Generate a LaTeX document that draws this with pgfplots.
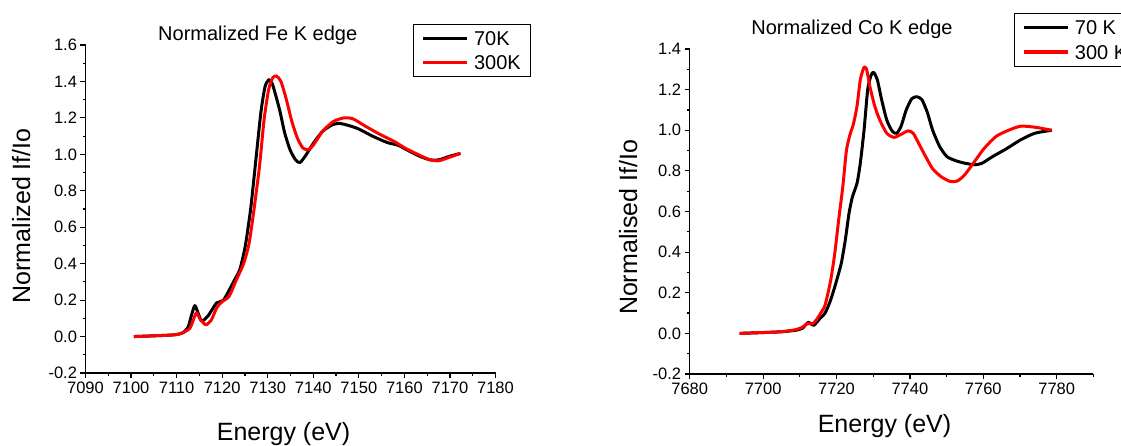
\documentclass[border=0pt]{standalone}
\usepackage{fontspec}
\setmainfont{Liberation Sans}
\usepackage{pgfplots}
\pgfplotsset{compat=1.18}
\pgfplotsset{
 myaxis/.style={
  scale only axis,
  anchor=south west,
  axis x line*=bottom, axis y line*=left,
  axis line style={line width=1.4pt},
  every tick/.style={black, line width=1.2pt},
  major tick length=5pt, minor tick length=3pt,
  tick align=outside,
  tick label style={font=\fontsize{16.5}{16.5}\selectfont},
  /pgf/number format/assume math mode=true,
  scaled x ticks=false, scaled y ticks=false,
  xticklabel style={/pgf/number format/1000 sep={}},
  yticklabel style={/pgf/number format/.cd, fixed, fixed zerofill, precision=1},
  label style={font=\fontsize{25}{25}\selectfont},
  title style={font=\fontsize{20}{20}\selectfont, anchor=base},
  clip=false,
  legend cell align=left,
  legend style={draw=black, line width=0.8pt, font=\fontsize{20}{20}\selectfont, anchor=north west,
    inner xsep=8.4pt, inner ysep=1.8pt, row sep=0pt, column sep=4pt,
    nodes={inner xsep=1pt, inner ysep=1pt, text height=18.4pt, text depth=4pt}},
  legend image code/.code={\draw[#1, line width=3.2pt] (0pt,0pt) -- (44pt,0pt);},
  every axis plot/.append style={line width=3pt, line join=round, smooth, tension=0.4},
 },
}
\begin{document}
\begin{tikzpicture}
\useasboundingbox (0,0) rectangle (1121pt,446pt);
% ---------------- Fe K edge
\begin{axis}[myaxis,
  at={(85.5pt,73pt)}, width=410pt, height=328pt,
  xmin=7090, xmax=7180, ymin=-0.2, ymax=1.6,
  xtick={7090,7100,...,7180}, minor xtick={7095,7105,...,7175},
  ytick={-0.2,0,0.2,0.4,0.6,0.8,1.0,1.2,1.4,1.6},
  minor ytick={-0.1,0.1,0.3,0.5,0.7,0.9,1.1,1.3,1.5},
  title={Normalized Fe K edge},
  title style={at={(axis description cs:0.42,1)}, yshift=-2pt},
  xlabel={Energy (eV)},
  xlabel style={at={(axis description cs:0.483,0)}, anchor=base, yshift=-68pt},
  ylabel={Normalized If/Io},
  ylabel style={at={(axis description cs:0,0.479)}, anchor=base, yshift=55.5pt},
  legend style={at={(axis description cs:0.799,1.0646)}},
]
\addplot[black] coordinates {
(7100.6,0.000) (7104,0.003) (7107,0.006) (7109.7,0.010) (7111.3,0.020) (7112.5,0.050)
(7113.3,0.120) (7114.0,0.170) (7114.7,0.130) (7115.5,0.085) (7116.8,0.110) (7118.8,0.185)
(7120.3,0.200) (7122.7,0.310) (7123.9,0.370) (7125.1,0.500) (7126.3,0.710) (7127.4,0.970)
(7128.5,1.230) (7129.4,1.370) (7130.3,1.410) (7131.1,1.380) (7132.6,1.245) (7133.7,1.120)
(7134.9,1.025) (7136.1,0.970) (7137.1,0.955) (7138.5,1.000) (7140.0,1.060) (7142.0,1.125)
(7144.0,1.160) (7145.6,1.170) (7147.5,1.160) (7149.9,1.140) (7153.0,1.100) (7156.2,1.065)
(7158.6,1.050) (7160.9,1.020) (7163.3,0.990) (7165.6,0.970) (7167.6,0.970) (7170.0,0.990)
(7172.3,1.005)};
\addlegendentry{70K}
\addplot[red] coordinates {
(7100.6,0.000) (7104,0.003) (7107,0.006) (7109.7,0.010) (7111.3,0.020) (7112.9,0.045)
(7113.8,0.100) (7114.4,0.130) (7115.2,0.095) (7116.4,0.065) (7117.6,0.090) (7118.8,0.157)
(7119.9,0.190) (7121.5,0.220) (7123.1,0.310) (7124.7,0.400) (7125.9,0.510) (7127.0,0.700)
(7128.2,0.935) (7129.2,1.190) (7130.2,1.355) (7131.1,1.420) (7131.9,1.430) (7132.9,1.400)
(7134.1,1.300) (7135.3,1.180) (7136.5,1.090) (7137.7,1.035) (7138.9,1.025) (7140.0,1.050)
(7142.0,1.125) (7144.4,1.180) (7146.7,1.200) (7148.7,1.195) (7151.4,1.155) (7154.6,1.110)
(7157.8,1.070) (7160.1,1.035) (7162.9,1.000) (7165.6,0.970) (7167.6,0.965) (7170.0,0.985)
(7172.3,1.005)};
\addlegendentry{300K}
\end{axis}
% ---------------- Co K edge
\begin{axis}[myaxis,
  at={(689.7pt,72pt)}, width=403.7pt, height=325pt,
  xmin=7680, xmax=7790, ymin=-0.2, ymax=1.4,
  xtick={7680,7700,...,7780}, minor xtick={7690,7710,...,7790},
  ytick={-0.2,0,0.2,0.4,0.6,0.8,1.0,1.2,1.4},
  minor ytick={-0.1,0.1,0.3,0.5,0.7,0.9,1.1,1.3},
  title={Normalized Co K edge},
  title style={at={(axis description cs:0.402,1)}, yshift=8.5pt},
  xlabel={Energy (eV)},
  xlabel style={at={(axis description cs:0.4825,0)}, anchor=base, yshift=-59pt},
  ylabel={Normalised If/Io},
  ylabel style={at={(axis description cs:0,0.451)}, anchor=base, yshift=52.7pt},
  legend style={at={(axis description cs:0.803,1.11)}},
]
\addplot[black] coordinates {
(7693.6,0.000) (7700,0.004) (7705.0,0.008) (7708.8,0.015) (7710.7,0.025) (7712.3,0.054)
(7713.8,0.040) (7715.5,0.074) (7716.9,0.100) (7718.4,0.164) (7719.8,0.246) (7721.3,0.345)
(7722.4,0.460) (7723.4,0.590) (7724.3,0.670) (7725.6,0.740) (7726.5,0.840) (7727.5,1.000)
(7728.5,1.200) (7729.4,1.270) (7730.1,1.285) (7731.1,1.250) (7732.3,1.150) (7733.7,1.050)
(7735.2,0.995) (7736.4,0.985) (7737.6,1.020) (7739.0,1.100) (7740.5,1.155) (7741.9,1.165)
(7743.3,1.150) (7744.8,1.085) (7746.2,1.000) (7748.1,0.920) (7750.1,0.870) (7752.5,0.850)
(7754.9,0.838) (7757.7,0.830) (7759.7,0.838) (7762.5,0.870) (7766.4,0.910) (7770.2,0.953)
(7774.0,0.985) (7778.7,1.000)};
\addlegendentry{70 K}
\addplot[red] coordinates {
(7693.6,0.000) (7700,0.004) (7705.0,0.008) (7708.8,0.018) (7710.7,0.030) (7712.1,0.049)
(7713.4,0.046) (7714.5,0.066) (7715.7,0.100) (7716.9,0.140) (7718.4,0.260) (7719.5,0.390)
(7720.6,0.560) (7721.7,0.720) (7722.7,0.900) (7723.7,0.980) (7724.6,1.030) (7725.6,1.120)
(7726.5,1.250) (7727.5,1.310) (7728.2,1.300) (7729.1,1.215) (7730.4,1.120) (7731.8,1.050)
(7733.7,0.985) (7735.7,0.965) (7737.6,0.980) (7739.5,0.997) (7740.9,0.985) (7742.4,0.935)
(7744.3,0.870) (7746.2,0.810) (7748.6,0.770) (7751.0,0.748) (7752.9,0.750) (7754.9,0.780)
(7757.3,0.838) (7760.2,0.910) (7763.5,0.970) (7766.9,1.000) (7770.2,1.020) (7774.0,1.015)
(7778.7,1.000)};
\addlegendentry{300 K}
\end{axis}
\end{tikzpicture}
\end{document}
